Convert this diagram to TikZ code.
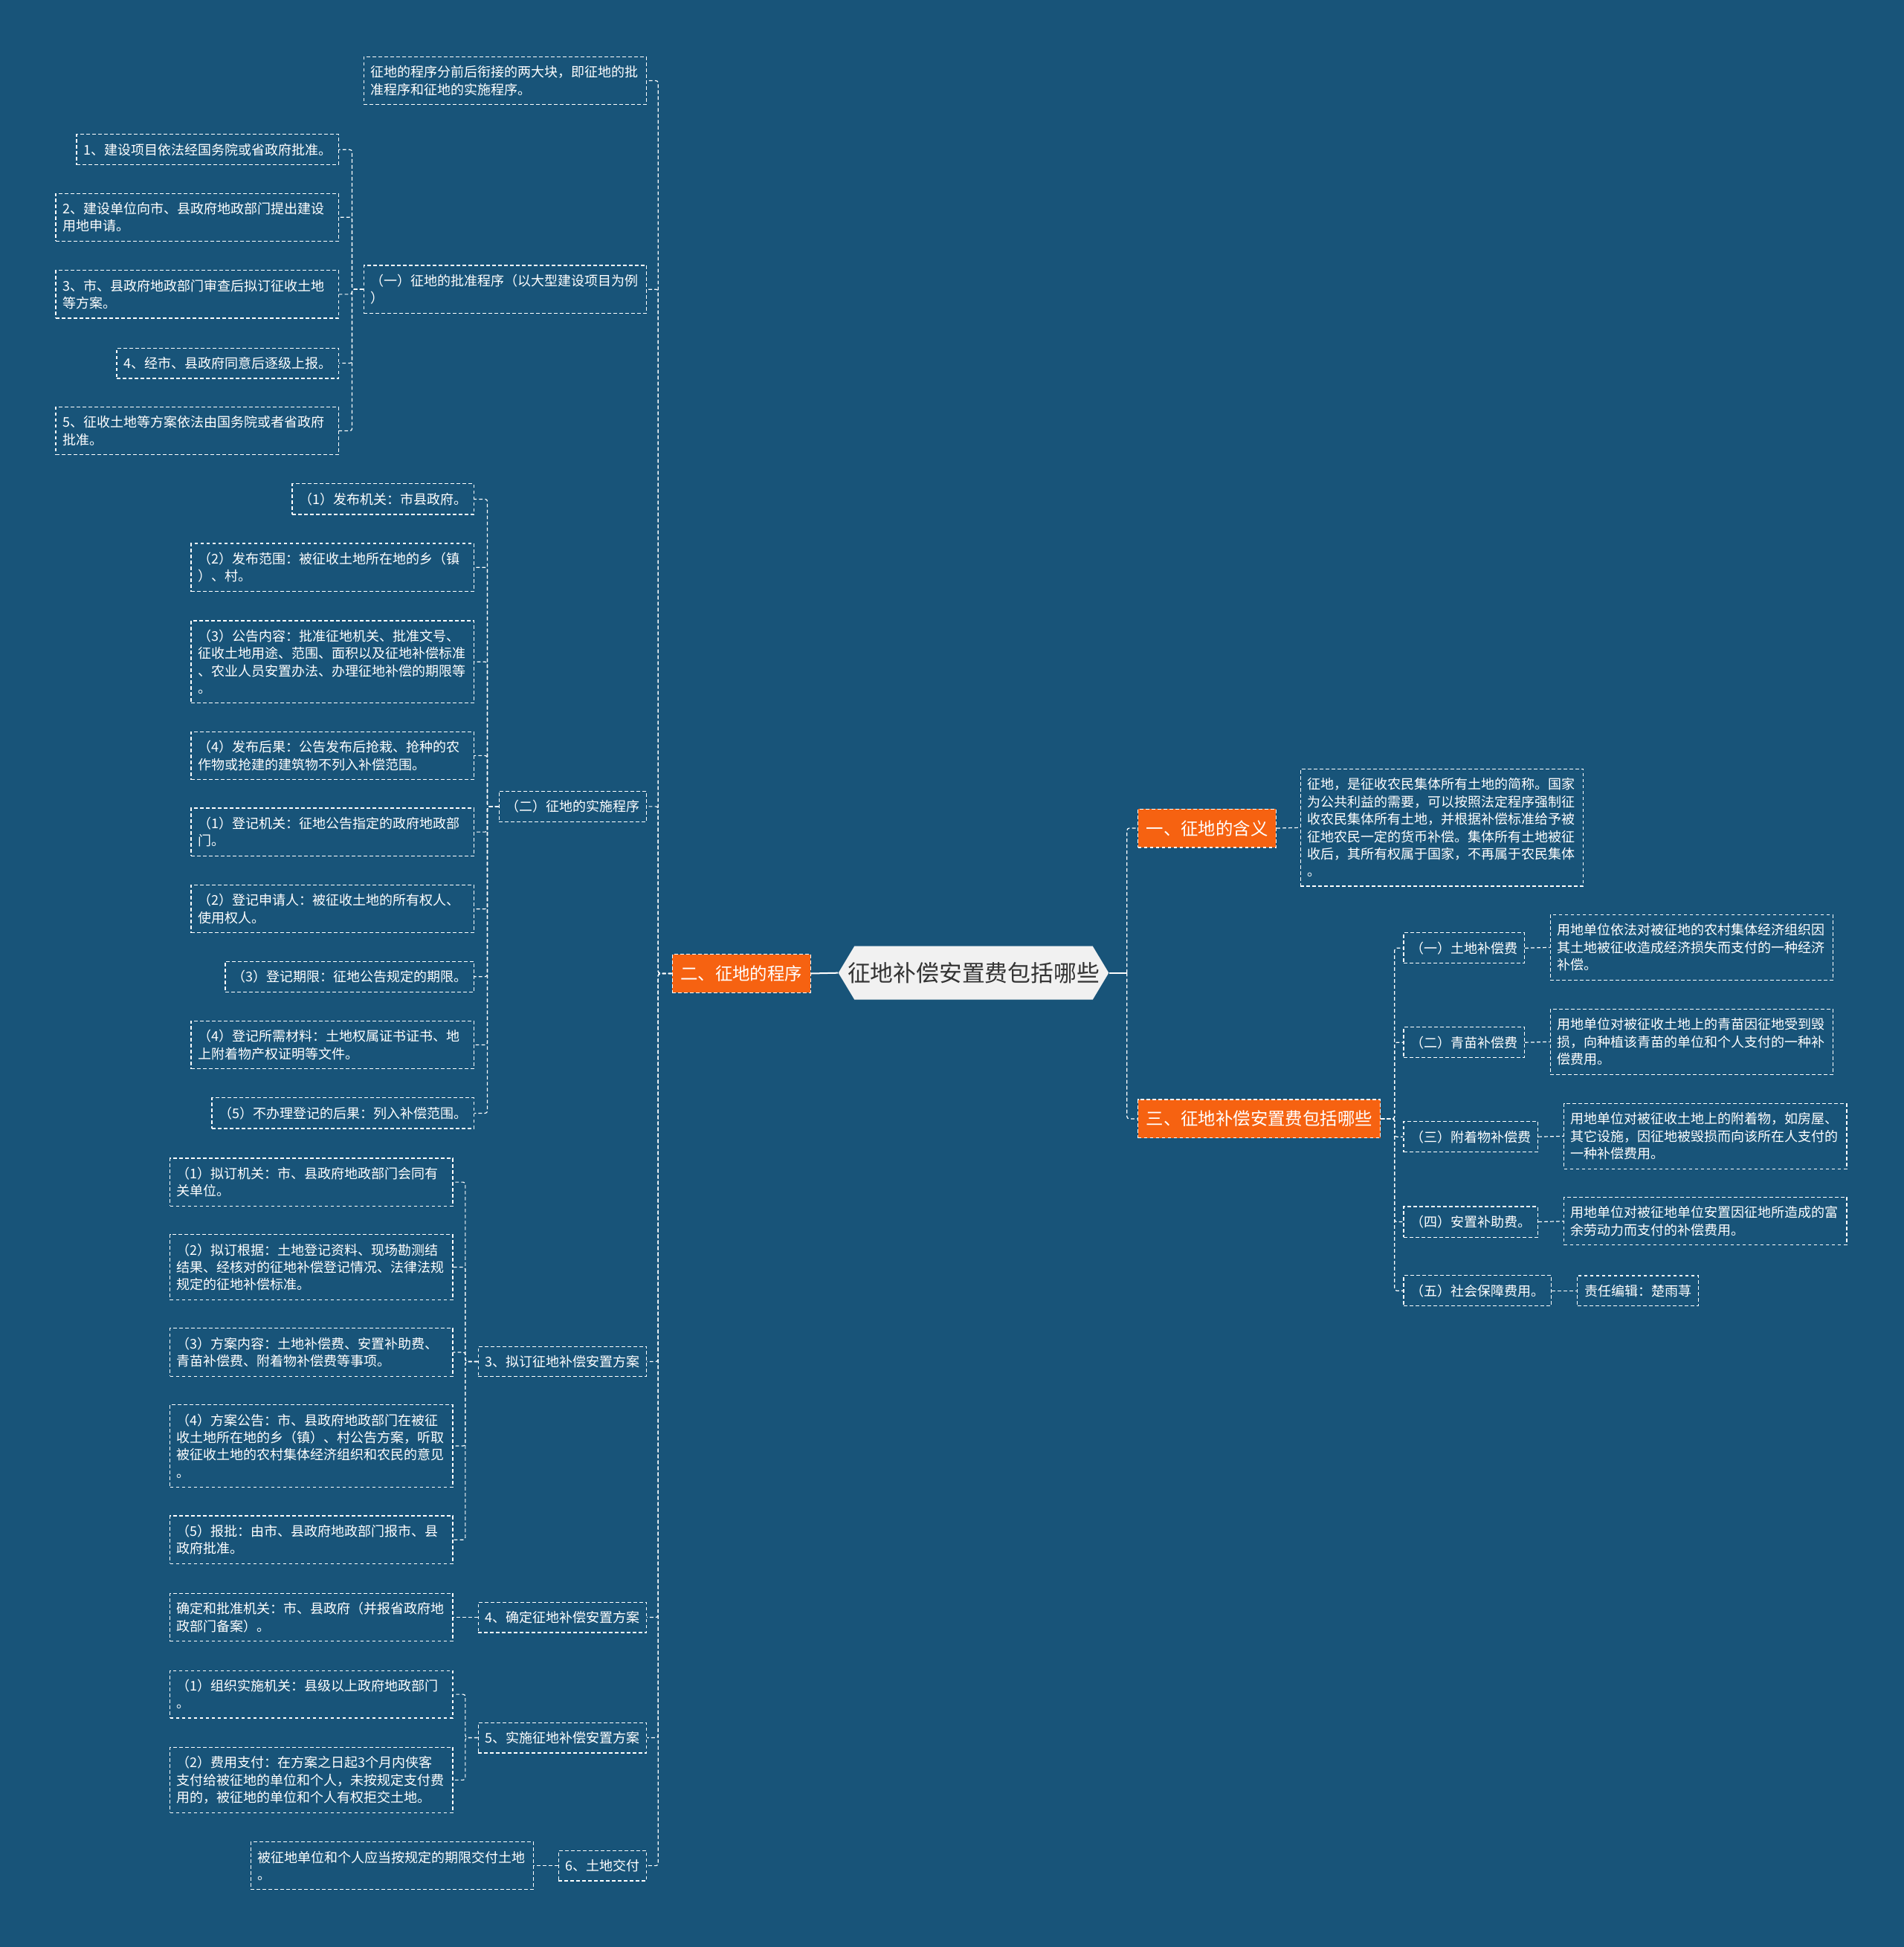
\documentclass[tikz,border=0pt]{standalone}
\usepackage{fontspec}
\setmainfont{Noto Sans CJK SC}
\usetikzlibrary{shapes.symbols}

\definecolor{bgblue}{RGB}{24,84,121}
\definecolor{mainorange}{RGB}{246,98,17}
\definecolor{rootgrey}{RGB}{241,241,241}
\definecolor{roottext}{RGB}{51,51,51}

\tikzset{
  leaf/.style={draw=white, line width=0.6pt, dash pattern=on 2.4pt off 1.6pt,
    text=white, font=\fontsize{9pt}{11.7pt}\selectfont,
    inner xsep=4.6pt, inner ysep=6pt},
  para/.style={leaf, text width=181pt, align=left},
  topic/.style={leaf, fill=mainorange, font=\fontsize{11.7pt}{14pt}\selectfont,
    inner xsep=5.5pt, inner ysep=7.5pt},
  rootnode/.style={signal, signal to=west and east, signal pointer angle=118,
    fill=rootgrey, text=roottext, font=\fontsize{15.4pt}{18pt}\selectfont,
    minimum height=36pt, inner xsep=-4.6pt},
  link/.style={draw=white, line width=0.6pt, dash pattern=on 2.4pt off 1.6pt,
    rounded corners=1.5pt},
  stem/.style={draw=white, line width=1pt}
}

\begin{document}
\begin{tikzpicture}[x=0.835pt, y=-0.835pt]
  \fill[bgblue] (0,0) rectangle (1533,1568);
  \useasboundingbox (0,0) rectangle (1533,1568);

  % 中心
  \node[rootnode] (root) at (784,783.5) {征地补偿安置费包括哪些};

  % 左侧：二、征地的程序
  \node[topic, anchor=east] (L1) at (653,784) {二、征地的程序};
  \node[para, anchor=east] (intro) at (521,65) {征地的程序分前后衔接的两大块，即征地的批\\准程序和征地的实施程序。};

  \node[para, anchor=east] (approve) at (521,233) {（一）征地的批准程序（以大型建设项目为例\\）};
  \node[leaf, anchor=east] (a1) at (273,120.5) {1、建设项目依法经国务院或省政府批准。};
  \node[para, anchor=east] (a2) at (273,175) {2、建设单位向市、县政府地政部门提出建设\\用地申请。};
  \node[para, anchor=east] (a3) at (273,237) {3、市、县政府地政部门审查后拟订征收土地\\等方案。};
  \node[leaf, anchor=east] (a4) at (273,292.5) {4、经市、县政府同意后逐级上报。};
  \node[para, anchor=east] (a5) at (273,347) {5、征收土地等方案依法由国务院或者省政府\\批准。};

  \node[leaf, anchor=east] (carry) at (521,649.5) {（二）征地的实施程序};
  \node[leaf, anchor=east] (c1) at (382,402) {（1）发布机关：市县政府。};
  \node[para, anchor=east] (c2) at (382,457) {（2）发布范围：被征收土地所在地的乡（镇\\）、村。};
  \node[para, anchor=east] (c3) at (382,533) {（3）公告内容：批准征地机关、批准文号、\\征收土地用途、范围、面积以及征地补偿标准\\、农业人员安置办法、办理征地补偿的期限等\\。};
  \node[para, anchor=east] (c4) at (382,608.5) {（4）发布后果：公告发布后抢栽、抢种的农\\作物或抢建的建筑物不列入补偿范围。};
  \node[para, anchor=east] (c5) at (382,670) {（1）登记机关：征地公告指定的政府地政部\\门。};
  \node[para, anchor=east] (c6) at (382,732) {（2）登记申请人：被征收土地的所有权人、\\使用权人。};
  \node[leaf, anchor=east] (c7) at (382,786.5) {（3）登记期限：征地公告规定的期限。};
  \node[para, anchor=east] (c8) at (382,841.5) {（4）登记所需材料：土地权属证书证书、地\\上附着物产权证明等文件。};
  \node[leaf, anchor=east] (c9) at (382,896.5) {（5）不办理登记的后果：列入补偿范围。};

  \node[leaf, anchor=east] (plan) at (521,1096.5) {3、拟订征地补偿安置方案};
  \node[para, anchor=east] (p1) at (365,952) {（1）拟订机关：市、县政府地政部门会同有\\关单位。};
  \node[para, anchor=east] (p2) at (365,1020.5) {（2）拟订根据：土地登记资料、现场勘测结\\结果、经核对的征地补偿登记情况、法律法规\\规定的征地补偿标准。};
  \node[para, anchor=east] (p3) at (365,1089) {（3）方案内容：土地补偿费、安置补助费、\\青苗补偿费、附着物补偿费等事项。};
  \node[para, anchor=east] (p4) at (365,1164.5) {（4）方案公告：市、县政府地政部门在被征\\收土地所在地的乡（镇）、村公告方案，听取\\被征收土地的农村集体经济组织和农民的意见\\。};
  \node[para, anchor=east] (p5) at (365,1240) {（5）报批：由市、县政府地政部门报市、县\\政府批准。};

  \node[leaf, anchor=east] (fix) at (521,1302.5) {4、确定征地补偿安置方案};
  \node[para, anchor=east] (f1) at (365,1302.5) {确定和批准机关：市、县政府（并报省政府地\\政部门备案）。};

  \node[leaf, anchor=east] (exec) at (521,1399.5) {5、实施征地补偿安置方案};
  \node[para, anchor=east] (e1) at (365,1364.5) {（1）组织实施机关：县级以上政府地政部门\\。};
  \node[para, anchor=east] (e2) at (365,1433.5) {（2）费用支付：在方案之日起3个月内侠客\\支付给被征地的单位和个人，未按规定支付费\\用的，被征地的单位和个人有权拒交土地。};

  \node[leaf, anchor=east] (hand) at (521,1502.5) {6、土地交付};
  \node[para, anchor=east] (h1) at (430,1502.5) {被征地单位和个人应当按规定的期限交付土地\\。};

  % 右侧：一、三
  \node[topic, anchor=west] (R1) at (916,667) {一、征地的含义};
  \node[para, anchor=west] (meaning) at (1047,666.5) {征地，是征收农民集体所有土地的简称。国家\\为公共利益的需要，可以按照法定程序强制征\\收农民集体所有土地，并根据补偿标准给予被\\征地农民一定的货币补偿。集体所有土地被征\\收后，其所有权属于国家，不再属于农民集体\\。};

  \node[topic, anchor=west] (R2) at (916,901) {三、征地补偿安置费包括哪些};
  \node[leaf, anchor=west] (fee1) at (1130,763.5) {（一）土地补偿费};
  \node[para, anchor=west] (fee1d) at (1248,763) {用地单位依法对被征地的农村集体经济组织因\\其土地被征收造成经济损失而支付的一种经济\\补偿。};
  \node[leaf, anchor=west] (fee2) at (1130,839.5) {（二）青苗补偿费};
  \node[para, anchor=west] (fee2d) at (1248,839) {用地单位对被征收土地上的青苗因征地受到毁\\损，向种植该青苗的单位和个人支付的一种补\\偿费用。};
  \node[leaf, anchor=west] (fee3) at (1130,915.5) {（三）附着物补偿费};
  \node[para, anchor=west] (fee3d) at (1259,915) {用地单位对被征收土地上的附着物，如房屋、\\其它设施，因征地被毁损而向该所在人支付的\\一种补偿费用。};
  \node[leaf, anchor=west] (fee4) at (1130,984) {（四）安置补助费。};
  \node[para, anchor=west] (fee4d) at (1259,983.5) {用地单位对被征地单位安置因征地所造成的富\\余劳动力而支付的补偿费用。};
  \node[leaf, anchor=west] (fee5) at (1130,1039.5) {（五）社会保障费用。};
  \node[leaf, anchor=west] (editor) at (1270,1039.5) {责任编辑：楚雨荨};

  % 连线
  \draw[stem] (L1.east) -- (root.west);
  \coordinate (rj) at ([xshift=12]root.east);
  \draw[stem] (root.east) -- (rj);
  \draw[link] (rj) |- (R1.west);
  \draw[link] (rj) |- (R2.west);
  \draw[link] (R1.east) -- (meaning.west);

  \draw[link] (R2.east) -- ++(11,0) |- (fee1.west);
  \draw[link] (R2.east) -- ++(11,0) |- (fee2.west);
  \draw[link] (R2.east) -- ++(11,0) |- (fee3.west);
  \draw[link] (R2.east) -- ++(11,0) |- (fee4.west);
  \draw[link] (R2.east) -- ++(11,0) |- (fee5.west);
  \draw[link] (fee1.east) -- (fee1d.west);
  \draw[link] (fee2.east) -- (fee2d.west);
  \draw[link] (fee3.east) -- (fee3d.west);
  \draw[link] (fee4.east) -- (fee4d.west);
  \draw[link] (fee5.east) -- (editor.west);

  \draw[link] (L1.west) -- ++(-11,0) |- (intro.east);
  \draw[link] (L1.west) -- ++(-11,0) |- (approve.east);
  \draw[link] (L1.west) -- ++(-11,0) |- (carry.east);
  \draw[link] (L1.west) -- ++(-11,0) |- (plan.east);
  \draw[link] (L1.west) -- ++(-11,0) |- (fix.east);
  \draw[link] (L1.west) -- ++(-11,0) |- (exec.east);
  \draw[link] (L1.west) -- ++(-11,0) |- (hand.east);

  \draw[link] (approve.west) -- ++(-9,0) |- (a1.east);
  \draw[link] (approve.west) -- ++(-9,0) |- (a2.east);
  \draw[link] (approve.west) -- ++(-9,0) |- (a3.east);
  \draw[link] (approve.west) -- ++(-9,0) |- (a4.east);
  \draw[link] (approve.west) -- ++(-9,0) |- (a5.east);

  \draw[link] (carry.west) -- ++(-9,0) |- (c1.east);
  \draw[link] (carry.west) -- ++(-9,0) |- (c2.east);
  \draw[link] (carry.west) -- ++(-9,0) |- (c3.east);
  \draw[link] (carry.west) -- ++(-9,0) |- (c4.east);
  \draw[link] (carry.west) -- ++(-9,0) |- (c5.east);
  \draw[link] (carry.west) -- ++(-9,0) |- (c6.east);
  \draw[link] (carry.west) -- ++(-9,0) |- (c7.east);
  \draw[link] (carry.west) -- ++(-9,0) |- (c8.east);
  \draw[link] (carry.west) -- ++(-9,0) |- (c9.east);

  \draw[link] (plan.west) -- ++(-10,0) |- (p1.east);
  \draw[link] (plan.west) -- ++(-10,0) |- (p2.east);
  \draw[link] (plan.west) -- ++(-10,0) |- (p3.east);
  \draw[link] (plan.west) -- ++(-10,0) |- (p4.east);
  \draw[link] (plan.west) -- ++(-10,0) |- (p5.east);

  \draw[link] (fix.west) -- (f1.east);
  \draw[link] (exec.west) -- ++(-10,0) |- (e1.east);
  \draw[link] (exec.west) -- ++(-10,0) |- (e2.east);
  \draw[link] (hand.west) -- (h1.east);
\end{tikzpicture}
\end{document}
